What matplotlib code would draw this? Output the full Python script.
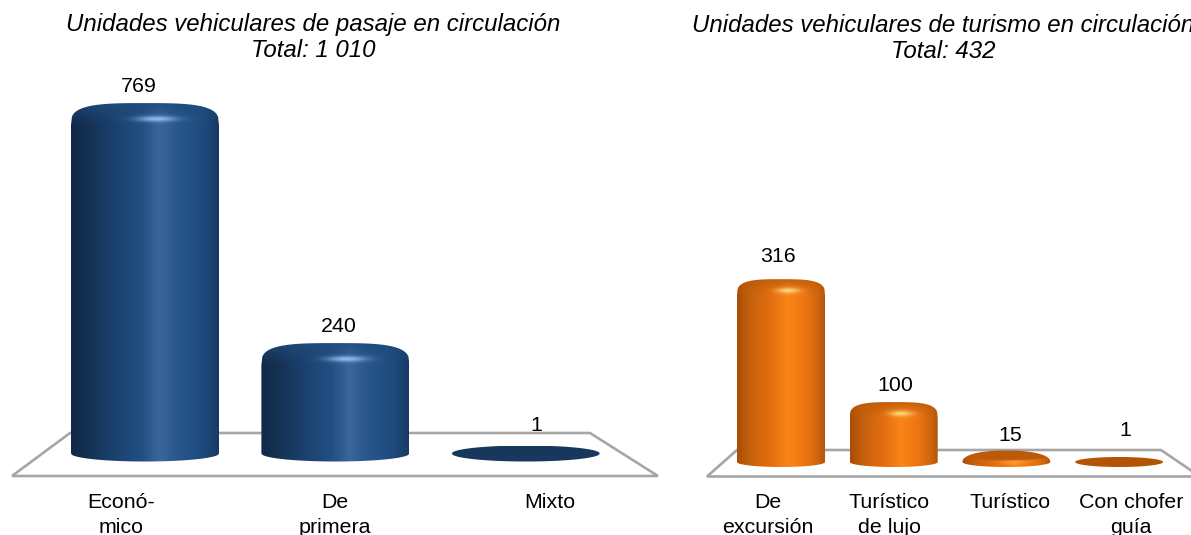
import numpy as np
import matplotlib
matplotlib.use("Agg")
import matplotlib.pyplot as plt
from matplotlib.patches import Polygon
from matplotlib.colors import to_rgb

plt.rcParams['font.family'] = ['Liberation Sans', 'DejaVu Sans']

# ---- data ----
pasaje_categories = ["Econó-\nmico", "De\nprimera", "Mixto"]
pasaje_values = [769, 240, 1]
turismo_categories = ["De\nexcursión", "Turístico\nde lujo", "Turístico", "Con chofer\nguía"]
turismo_values = [316, 100, 15, 1]
pasaje_title = "Unidades vehiculares de pasaje en circulación\nTotal: 1 010"
turismo_title = "Unidades vehiculares de turismo en circulación\nTotal: 432"

W, H = 1191, 535
FS = 15.4
TITLE_FS = 17.3
fig = plt.figure(figsize=(W / 100, H / 100), dpi=100, facecolor="white")

BLUE = dict(stops=[(0, "#10294a"), (.10, "#14304f"), (.25, "#1a3d68"), (.48, "#234f84"),
                   (.60, "#3a669b"), (.72, "#28578e"), (.90, "#1e497c"), (1, "#173a63")],
            top="#1f4b7c", flat="#17375e", glow="#8fbcf0")
ORANGE = dict(stops=[(0, "#a84d06"), (.14, "#c4600c"), (.40, "#e56f10"), (.58, "#fb8517"),
                     (.78, "#ec7412"), (.93, "#cc640e"), (1, "#b0560a")],
              top="#bb5a08", flat="#b35405", glow="#ffd779")


def panel(px_left, px_right, cat_px0, cat_dpx, zero_py, k, bar_w, bottom_py, eh, shoulder, style,
          cats, vals, title, title_px, title_py, floor_px, lab_dx, lab_dy, cat_px):
    ax = fig.add_axes([px_left / W, 0, (px_right - px_left) / W, 1])
    xmin = (px_left - cat_px0) / cat_dpx
    xmax = (px_right - cat_px0) / cat_dpx
    ymin = (zero_py - H) / k
    ymax = zero_py / k
    ax.set_axis_off()

    def X(p):
        return (np.asarray(p, float) - cat_px0) / cat_dpx

    def Y(p):
        return (zero_py - np.asarray(p, float)) / k

    # floor
    fx, fy = zip(*floor_px)
    ax.add_patch(Polygon(np.column_stack([X(fx), Y(fy)]), closed=True, facecolor="white",
                         edgecolor="#a6a6a6", linewidth=1.9, joinstyle="miter", zorder=1))

    us = np.array([s[0] for s in style["stops"]])
    cs = np.array([to_rgb(s[1]) for s in style["stops"]])
    top_rgb = np.array(to_rgb(style["top"]))
    flat_rgb = np.array(to_rgb(style["flat"]))
    glow_rgb = np.array(to_rgb(style["glow"]))

    for i, v in enumerate(vals):
        cpx = cat_px0 + i * cat_dpx
        top = min(zero_py - k * v, bottom_py - 2 * eh)
        yb = bottom_py - eh
        h = bottom_py - top
        s = min(shoulder, yb - top)
        p = 2.0 if h <= 2 * eh + 1 else (2.2 if h < 2 * eh + shoulder else 3.3)
        # silhouette
        t = np.linspace(-1, 1, 161)
        top_y = (top + s) - s * (1 - np.abs(t) ** p) ** (1 / p)
        bot_y = yb + eh * np.sqrt(1 - t ** 2)
        sx = cpx + t * bar_w / 2
        outline = np.column_stack([np.r_[sx, sx[::-1]], np.r_[top_y, bot_y[::-1]]])
        poly = Polygon(np.column_stack([X(outline[:, 0]), Y(outline[:, 1])]), closed=True,
                       transform=ax.transData, facecolor="none", edgecolor="none")
        ax.add_patch(poly)
        # shading
        nx, ny = int(bar_w) * 2, max(int(h) * 2, 4)
        u = (np.arange(nx) + .5) / nx
        d = (np.arange(ny) + .5) / ny * h
        U, D = np.meshgrid(u, d)
        img = np.stack([np.interp(U, us, cs[:, c]) for c in range(3)], axis=-1)
        if h <= 2 * eh + 1:
            mix = np.ones_like(U)
            glow = np.zeros_like(U)
        elif h < 2 * eh + shoulder:
            r = ((U - .5) / .5) ** 2 + ((D - eh) / eh) ** 2
            mix = np.clip((1.15 - r) / .3, 0, 1)
            glow = 0.3 * np.exp(-((U - .58) / .16) ** 2 - ((D - h * .72) / 1.6) ** 2)
        else:
            mix = np.clip(1 - D / shoulder, 0, 1) ** 1.2 * .85
            glow = np.exp(-((U - .58) / .13) ** 2 - ((D - shoulder * .72) / 2.8) ** 2)
        base = flat_rgb if h <= 2 * eh + 1 else top_rgb
        img = img * (1 - mix[..., None]) + base * mix[..., None]
        img = img * (1 - glow[..., None]) + glow_rgb * glow[..., None]
        im = ax.imshow(img, extent=[X(cpx - bar_w / 2), X(cpx + bar_w / 2), Y(bottom_py), Y(top)],
                       origin="upper", aspect="auto", interpolation="bilinear", zorder=2)
        im.set_clip_path(poly)
        # value label
        ax.annotate(str(v), xy=(i, Y(top)),
                    xytext=(lab_dx[i] * .72, lab_dy[i] * .72), textcoords="offset points",
                    ha="center", va="center", fontsize=FS, color="#000000", zorder=4)
        # category label
        ax.text(X(cat_px[i]), Y(493.5), cats[i], ha="center", va="top", fontsize=FS, color="#000000",
                linespacing=1.38, zorder=4, clip_on=False)

    ax.set_xlim(xmin, xmax)
    ax.set_ylim(ymin, ymax)
    ax.text(X(title_px), Y(title_py), title, ha="center", va="center", fontsize=TITLE_FS, style="italic",
            color="#000000", linespacing=1.18, zorder=4, clip_on=False)


panel(0, 670, 145, 190.4, 452, .4537, 148, 461.5, 8, 22, BLUE,
      pasaje_categories, pasaje_values, pasaje_title, 313, 37.5,
      [(12, 476), (658, 476), (590, 433), (70, 433)],
      [-6, 3, 11], [17, 17, 20], [121, 335, 550])
panel(670, 1191, 781, 112.7, 459, .569, 88, 467, 5, 16, ORANGE,
      turismo_categories, turismo_values, turismo_title, 943, 38.5,
      [(707, 476.5), (1200, 476.5), (1161, 450), (737, 450)],
      [-3, 2, 4, 6], [23, 17, 15, 26], [768, 889, 1010, 1131])

fig.savefig("out.png", dpi=100, facecolor="white")
